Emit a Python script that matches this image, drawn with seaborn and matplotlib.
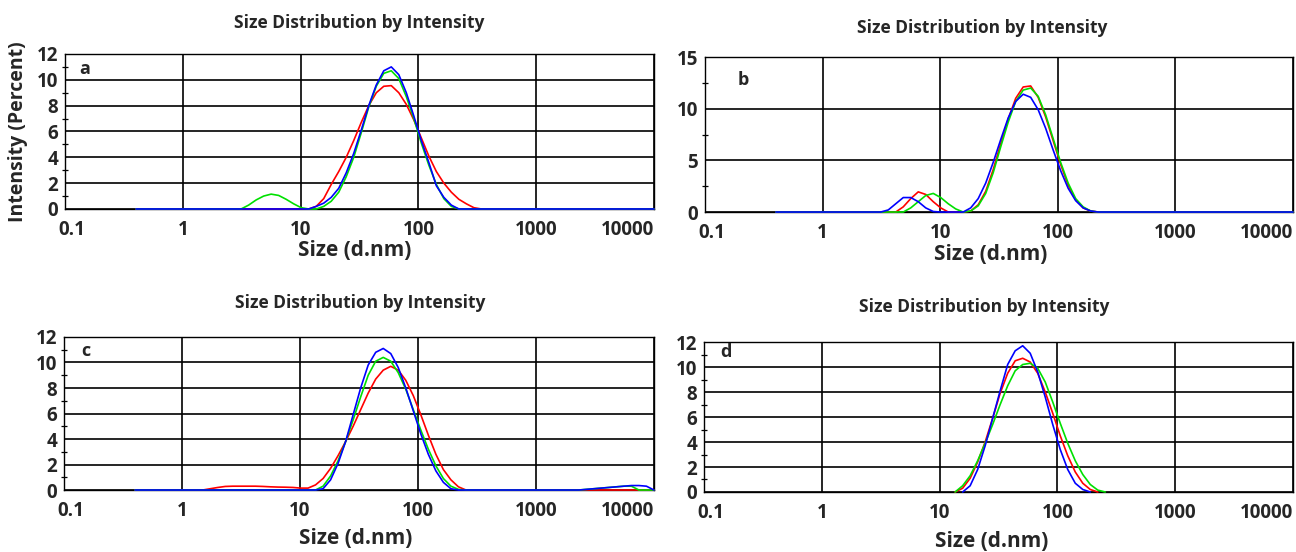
import numpy as np
import pandas as pd
import matplotlib
matplotlib.use("Agg")
import matplotlib.pyplot as plt
from matplotlib.ticker import FixedLocator, LogLocator, NullFormatter, MultipleLocator
from matplotlib.transforms import ScaledTranslation
import seaborn as sns

# ---------------- data ----------------
X_TICKS = [0.1, 1, 10, 100, 1000, 10000]
X_TICK_LABELS = ["0.1", "1", "10", "100", "1000", "10000"]
PANEL_LABELS = ["a", "b", "c", "d"]
RUN_NAMES = ["red", "green", "blue"]
RUN_COLORS = ["#ff0000", "#00e000", "#0000ff"]

# panel a
A_RED_X = [0.4, 11.7, 13.54, 15.69, 18.17, 21.04, 24.36, 28.21, 32.67, 37.84, 43.82, 50.75, 58.77, 68.06, 78.82, 91.28, 105.7, 122.4, 141.8, 164.2, 190.1, 220.2, 255.0, 295.3, 342.0, 10000]
A_RED_Y = [0, 0, 0.2, 0.8, 1.9, 2.9, 4.0, 5.3, 6.7, 8.0, 9.0, 9.5, 9.55, 9.0, 8.1, 6.9, 5.5, 4.1, 2.9, 2.0, 1.3, 0.75, 0.4, 0.1, 0, 0]
A_GREEN_X = [0.4, 3.122, 3.615, 4.187, 4.849, 5.615, 6.503, 7.531, 8.721, 10.1, 11.7, 13.54, 15.69, 18.17, 21.04, 24.36, 28.21, 32.67, 37.84, 43.82, 50.75, 58.77, 68.06, 78.82, 91.28, 105.7, 122.4, 141.8, 164.2, 190.1, 220.2, 10000]
A_GREEN_Y = [0, 0, 0.3, 0.7, 1.0, 1.15, 1.05, 0.75, 0.4, 0.1, 0, 0, 0.2, 0.6, 1.3, 2.5, 4.0, 5.9, 7.9, 9.5, 10.5, 10.7, 10.1, 8.7, 7.0, 5.1, 3.4, 1.9, 0.8, 0.2, 0, 0]
A_BLUE_X = [0.4, 11.7, 13.54, 15.69, 18.17, 21.04, 24.36, 28.21, 32.67, 37.84, 43.82, 50.75, 58.77, 68.06, 78.82, 91.28, 105.7, 122.4, 141.8, 164.2, 190.1, 220.2, 10000]
A_BLUE_Y = [0, 0, 0.2, 0.45, 0.9, 1.6, 2.8, 4.3, 6.1, 8.0, 9.6, 10.7, 11.0, 10.4, 9.0, 7.2, 5.3, 3.6, 1.8, 0.9, 0.3, 0, 0]

# panel b
B_RED_X = [0.4, 4.187, 4.849, 5.615, 6.503, 7.531, 8.721, 10.1, 11.7, 15.69, 18.17, 21.04, 24.36, 28.21, 32.67, 37.84, 43.82, 50.75, 58.77, 68.06, 78.82, 91.28, 105.7, 122.4, 141.8, 164.2, 190.1, 220.2, 10000]
B_RED_Y = [0, 0, 0.5, 1.3, 1.95, 1.7, 1.0, 0.4, 0, 0, 0.1, 0.7, 2.0, 4.1, 6.6, 9.0, 11.0, 12.1, 12.2, 11.1, 9.2, 6.9, 4.6, 2.6, 1.2, 0.4, 0.1, 0, 0]
B_GREEN_X = [0.4, 4.849, 5.615, 6.503, 7.531, 8.721, 10.1, 11.7, 13.54, 15.69, 18.17, 21.04, 24.36, 28.21, 32.67, 37.84, 43.82, 50.75, 58.77, 68.06, 78.82, 91.28, 105.7, 122.4, 141.8, 164.2, 190.1, 220.2, 10000]
B_GREEN_Y = [0, 0, 0.4, 1.0, 1.6, 1.8, 1.4, 0.8, 0.3, 0, 0.1, 0.6, 1.8, 3.8, 6.3, 8.7, 10.7, 11.8, 12.0, 11.2, 9.4, 7.1, 4.8, 2.8, 1.3, 0.5, 0.1, 0, 0]
B_BLUE_X = [0.4, 3.122, 3.615, 4.187, 4.849, 5.615, 6.503, 7.531, 8.721, 10.1, 15.69, 18.17, 21.04, 24.36, 28.21, 32.67, 37.84, 43.82, 50.75, 58.77, 68.06, 78.82, 91.28, 105.7, 122.4, 141.8, 164.2, 190.1, 220.2, 10000]
B_BLUE_Y = [0, 0, 0.2, 0.8, 1.4, 1.4, 1.0, 0.4, 0.05, 0, 0, 0.4, 1.3, 2.8, 4.8, 7.0, 9.1, 10.7, 11.4, 11.1, 9.9, 8.1, 6.0, 4.0, 2.3, 1.1, 0.4, 0.1, 0, 0]

# panel c
C_RED_X = [0.4, 1.499, 1.736, 2.01, 2.328, 2.696, 3.122, 3.615, 4.187, 4.849, 5.615, 6.503, 7.531, 8.721, 10.1, 11.7, 13.54, 15.69, 18.17, 21.04, 24.36, 28.21, 32.67, 37.84, 43.82, 50.75, 58.77, 68.06, 78.82, 91.28, 105.7, 122.4, 141.8, 164.2, 190.1, 220.2, 255.0, 10000]
C_RED_Y = [0, 0, 0.1, 0.2, 0.28, 0.3, 0.3, 0.3, 0.3, 0.28, 0.25, 0.23, 0.22, 0.2, 0.15, 0.15, 0.4, 0.9, 1.7, 2.7, 3.8, 5.0, 6.3, 7.6, 8.7, 9.4, 9.7, 9.4, 8.6, 7.4, 5.9, 4.3, 2.8, 1.6, 0.8, 0.25, 0, 0]
C_GREEN_X = [0.4, 13.54, 15.69, 18.17, 21.04, 24.36, 28.21, 32.67, 37.84, 43.82, 50.75, 58.77, 68.06, 78.82, 91.28, 105.7, 122.4, 141.8, 164.2, 190.1, 220.2, 255.0, 2305, 3091, 4145, 5560, 6439, 7456, 10000]
C_GREEN_Y = [0, 0, 0.3, 1.1, 2.3, 3.8, 5.5, 7.3, 9.0, 10.1, 10.4, 10.1, 9.2, 7.9, 6.3, 4.7, 3.2, 1.9, 0.9, 0.3, 0.05, 0, 0, 0.1, 0.2, 0.3, 0.3, 0, 0]
C_BLUE_X = [0.4, 13.54, 15.69, 18.17, 21.04, 24.36, 28.21, 32.67, 37.84, 43.82, 50.75, 58.77, 68.06, 78.82, 91.28, 105.7, 122.4, 141.8, 164.2, 190.1, 220.2, 2305, 2669, 3091, 3580, 4145, 4801, 5560, 6439, 7456, 8635, 10000]
C_BLUE_Y = [0, 0, 0.1, 0.8, 2.1, 3.8, 5.9, 8.0, 9.8, 10.8, 11.1, 10.7, 9.6, 8.0, 6.2, 4.4, 2.8, 1.5, 0.6, 0.1, 0, 0, 0.05, 0.1, 0.15, 0.2, 0.25, 0.3, 0.35, 0.35, 0.3, 0]

# panel d
D_RED_X = [13.54, 15.69, 18.17, 21.04, 24.36, 28.21, 32.67, 37.84, 43.82, 50.75, 58.77, 68.06, 78.82, 91.28, 105.7, 122.4, 141.8, 164.2, 190.1, 220.2]
D_RED_Y = [0, 0.3, 1.1, 2.4, 4.0, 5.9, 7.9, 9.5, 10.5, 10.7, 10.4, 9.5, 8.0, 6.3, 4.5, 2.9, 1.6, 0.7, 0.2, 0]
D_GREEN_X = [13.54, 15.69, 18.17, 21.04, 24.36, 28.21, 32.67, 37.84, 43.82, 50.75, 58.77, 68.06, 78.82, 91.28, 105.7, 122.4, 141.8, 164.2, 190.1, 220.2, 255.0]
D_GREEN_Y = [0, 0.5, 1.3, 2.5, 3.9, 5.4, 7.0, 8.5, 9.7, 10.2, 10.3, 9.9, 8.8, 7.2, 5.5, 3.9, 2.5, 1.4, 0.6, 0.15, 0]
D_BLUE_X = [15.69, 18.17, 21.04, 24.36, 28.21, 32.67, 37.84, 43.82, 50.75, 58.77, 68.06, 78.82, 91.28, 105.7, 122.4, 141.8, 164.2, 190.1]
D_BLUE_Y = [0, 0.5, 1.8, 3.7, 5.9, 8.1, 10.2, 11.3, 11.7, 11.1, 9.6, 7.6, 5.4, 3.4, 1.8, 0.7, 0.2, 0]

Y_MAX = [12, 15, 12, 12]
Y_MAJOR = [2, 5, 2, 2]

TITLE = "Size Distribution by Intensity"
XLABEL = "Size (d.nm)"
YLABEL = "Intensity (Percent)"

PANEL_DATA = [
    [(A_RED_X, A_RED_Y), (A_GREEN_X, A_GREEN_Y), (A_BLUE_X, A_BLUE_Y)],
    [(B_RED_X, B_RED_Y), (B_GREEN_X, B_GREEN_Y), (B_BLUE_X, B_BLUE_Y)],
    [(C_RED_X, C_RED_Y), (C_GREEN_X, C_GREEN_Y), (C_BLUE_X, C_BLUE_Y)],
    [(D_RED_X, D_RED_Y), (D_GREEN_X, D_GREEN_Y), (D_BLUE_X, D_BLUE_Y)],
]

# ---------------- style ----------------
sns.set_style("white")
plt.rcParams["font.family"] = ["Open Sans", "DejaVu Sans"]
plt.rcParams["font.weight"] = "bold"

fig = plt.figure(figsize=(12.96, 5.52), dpi=100)

# layout
RECTS = [
    [0.0502, 0.6214, 0.4545, 0.2808],
    [0.5440, 0.6159, 0.4537, 0.2808],
    [0.0494, 0.1123, 0.4552, 0.2772],
    [0.5432, 0.1087, 0.4545, 0.2717],
]
TITLE_POS = [(0.50, 1.20), (0.471, 1.187), (0.502, 1.222), (0.475, 1.233)]
XLABEL_POS = [(0.492, -0.265), (0.485, -0.277), (0.495, -0.314), (0.489, -0.333)]
LETTER_POS = [(0.024, 0.903), (0.056, 0.852), (0.029, 0.908), (0.027, 0.933)]

palette = dict(zip(RUN_NAMES, RUN_COLORS))
nudge_right = ScaledTranslation(5 / 72, 0, fig.dpi_scale_trans)

for i in range(4):
    ax = fig.add_axes(RECTS[i])
    ax.set_xscale("log")
    frames = []
    for name, (xs, ys) in zip(RUN_NAMES, PANEL_DATA[i]):
        frames.append(pd.DataFrame({"size": xs, "intensity": ys, "run": name}))
    df = pd.concat(frames, ignore_index=True)
    sns.lineplot(data=df, x="size", y="intensity", hue="run", palette=palette,
                 hue_order=RUN_NAMES, estimator=None, sort=False, lw=1.2,
                 legend=False, ax=ax, clip_on=False, zorder=4)

    ax.set_xlim(0.1, 10000)
    ax.set_ylim(0, Y_MAX[i])
    ax.xaxis.set_major_locator(FixedLocator(X_TICKS))
    ax.set_xticklabels(X_TICK_LABELS)
    ax.xaxis.set_minor_locator(LogLocator(base=10, subs=np.arange(2, 10)))
    ax.xaxis.set_minor_formatter(NullFormatter())
    ax.yaxis.set_major_locator(MultipleLocator(Y_MAJOR[i]))
    ax.yaxis.set_minor_locator(MultipleLocator(Y_MAJOR[i] / 2))

    ax.grid(True, which="major", color="black", lw=1.2)
    ax.set_axisbelow(True)
    for s in ax.spines.values():
        s.set_color("black")
        s.set_linewidth(1.0)

    ax.tick_params(axis="x", which="major", length=0, labelsize=13.5, pad=8)
    ax.tick_params(axis="y", which="major", length=0, labelsize=13.5, pad=5)
    ax.tick_params(axis="x", which="minor", direction="inout", length=4, width=0.9, color="black")
    ax.tick_params(axis="y", which="minor", direction="inout", length=4, width=0.9, color="black", left=True)
    xlabs = ax.get_xticklabels()
    for lab in xlabs + ax.get_yticklabels():
        lab.set_fontweight("bold")
    xlabs[-1].set_horizontalalignment("right")
    xlabs[0].set_transform(xlabs[0].get_transform() + nudge_right)

    ax.set_title(TITLE, fontsize=12.5, fontweight="bold", x=TITLE_POS[i][0],
                 y=TITLE_POS[i][1], va="center", pad=0)
    ax.set_xlabel(XLABEL, fontsize=15, fontweight="bold", va="center")
    ax.xaxis.set_label_coords(*XLABEL_POS[i])
    if i == 0:
        ax.set_ylabel(YLABEL, fontsize=14, fontweight="bold", va="center")
        ax.yaxis.set_label_coords(-0.08, 0.50)
    else:
        ax.set_ylabel("")
    ax.text(LETTER_POS[i][0], LETTER_POS[i][1], PANEL_LABELS[i], transform=ax.transAxes,
            fontsize=13, fontweight="bold", ha="left", va="center")

fig.savefig("out.png", dpi=100)
